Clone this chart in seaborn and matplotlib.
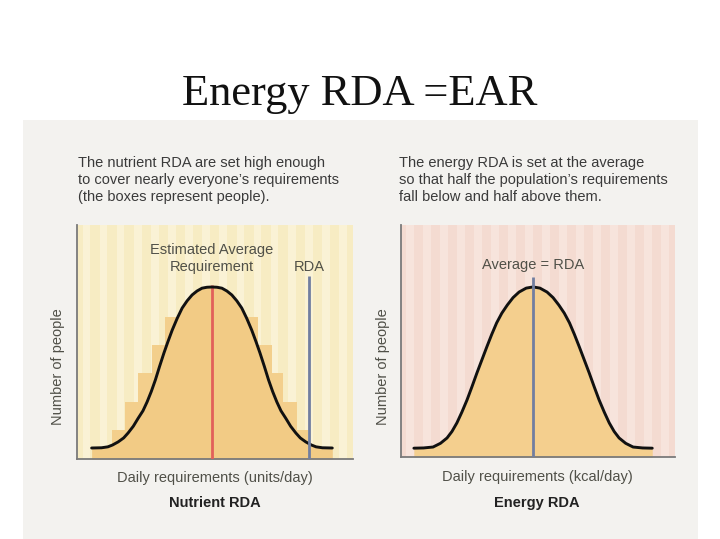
import numpy as np
import matplotlib
matplotlib.use("Agg")
import matplotlib.pyplot as plt
import seaborn as sns

# ---------------- data ----------------
title = "Energy RDA =EAR"

# Left panel: nutrient requirement curve, read as distance from the centre / height
nut_center = 48.9
nut_off = [0, 1.8, 3.6, 5.4, 7.2, 9.0, 10.8, 12.6, 14.4, 16.0, 17.4, 19.0, 20.5,
           22.0, 23.5, 25.0, 26.8, 28.5, 30.4, 32.0, 34.0, 36.0, 37.7, 40.0, 43.6]
nut_h = [73.5, 73.4, 73.0, 71.8, 70.1, 67.6, 64.5, 60.1, 55.1, 50.0, 45.3, 39.5, 33.8,
         28.8, 24.4, 20.6, 17.3, 14.0, 11.1, 9.0, 7.3, 6.0, 5.2, 4.8, 4.7]
# boxes (people) as a histogram
box_edges = [12.7, 17.4, 22.1, 27.2, 31.9, 65.6, 70.7, 74.6, 79.7, 83.7]
box_counts = [12.4, 24.4, 36.8, 48.7, 60.7, 48.7, 36.8, 24.4, 12.4]
ear_top = 74.4
rda_x, rda_top = 84.1, 78.2

# Right panel: energy requirement curve
en_center = 48.2
en_off = [0, 2.5, 5.1, 7.3, 9.4, 11.4, 13.3, 15.1, 16.9, 18.7, 20.5, 22.3, 24.1,
          26.0, 27.8, 29.6, 31.4, 33.8, 36.5, 40.0, 43.5]
en_h = [73.3, 72.8, 71.1, 68.7, 65.5, 62.0, 57.8, 52.8, 47.4, 41.8, 36.2, 30.3, 24.6,
        19.3, 14.7, 11.0, 8.2, 5.9, 4.3, 3.9, 3.8]
avg_top = 77.6

left_desc = ["The nutrient RDA are set high enough",
             "to cover nearly everyone\u2019s requirements",
             "(the boxes represent people)."]
right_desc = ["The energy RDA is set at the average",
              "so that half the population\u2019s requirements",
              "fall below and half above them."]

# symmetric curves from the read offsets
nut_x = [nut_center - d for d in nut_off[::-1]] + [nut_center + d for d in nut_off[1:]]
nut_y = nut_h[::-1] + nut_h[1:]
en_x = [en_center - d for d in en_off[::-1]] + [en_center + d for d in en_off[1:]]
en_y = en_h[::-1] + en_h[1:]

# ---------------- figure ----------------
sns.set_theme(style="white")
plt.rcParams['font.family'] = ['Liberation Sans', 'DejaVu Sans']

W, H = 720, 539
fig = plt.figure(figsize=(W / 100, H / 100), dpi=100)
fig.patch.set_facecolor("white")

def fx(px):
    return px / W

def fy(py):
    return 1 - py / H

# scanned page background
page = plt.Rectangle((fx(23), 0), fx(698) - fx(23), fy(120), transform=fig.transFigure,
                     facecolor="#f3f2ef", edgecolor="none", zorder=-10)
fig.patches.append(page)

fig.text(fx(360), fy(94), title, ha="center", va="center",
         family=["Liberation Serif", "DejaVu Serif"], fontsize=32, color="#111111")

txt_col = "#3a3a3a"

def setup_axes(rect, base, stripe):
    ax = fig.add_axes(rect)
    ax.set_facecolor(base)
    for s0 in np.arange(2, 100, 6.2):
        ax.axvspan(s0, s0 + 2.8, color=stripe, lw=0, zorder=0)
    for side in ("top", "right"):
        ax.spines[side].set_visible(False)
    for side in ("left", "bottom"):
        ax.spines[side].set_color("#7a7a7a")
        ax.spines[side].set_linewidth(1.3)
    return ax

def finish(ax):
    ax.set_xlim(0, 100)
    ax.set_ylim(0, 100)
    ax.set_xticks([])
    ax.set_yticks([])
    ax.set_xlabel("")
    ax.set_ylabel("")

# ---- left panel ----
axL = setup_axes([fx(77), fy(459), fx(353) - fx(77), (459 - 225) / H], "#f7ecc3", "#faf2d5")
centers = [(box_edges[i] + box_edges[i + 1]) / 2 for i in range(len(box_counts))]
sns.histplot(x=centers, weights=box_counts, bins=box_edges, ax=axL, stat="count",
             color="#f3cf8c", alpha=1, linewidth=0, zorder=1)
axL.fill_between(nut_x, 0, nut_y, color="#f2cb85", lw=0, zorder=2)
sns.lineplot(x=nut_x, y=nut_y, ax=axL, color="#111111", lw=2.1, sort=False, zorder=4,
             solid_joinstyle="round", solid_capstyle="round")
axL.vlines(nut_center, 0, ear_top, color="#e2605a", lw=2, zorder=3)
axL.vlines(rda_x, 0, rda_top, color="#717ea0", lw=2, zorder=5)
finish(axL)

# ---- right panel ----
axR = setup_axes([fx(401), fy(457), fx(675) - fx(401), (457 - 225) / H], "#f4dbd1", "#f7e4dc")
axR.fill_between(en_x, 0, en_y, color="#f4cf8e", lw=0, zorder=2)
sns.lineplot(x=en_x, y=en_y, ax=axR, color="#111111", lw=2.1, sort=False, zorder=4,
             solid_joinstyle="round", solid_capstyle="round")
axR.vlines(en_center, 0, avg_top, color="#717ea0", lw=2, zorder=5)
finish(axR)

fs = 10.5
for i, line in enumerate(left_desc):
    fig.text(fx(78), fy(163 + 17 * i), line, ha="left", va="center", fontsize=fs, color=txt_col)
for i, line in enumerate(right_desc):
    fig.text(fx(399), fy(163 + 17 * i), line, ha="left", va="center", fontsize=fs, color=txt_col)

lab_col = "#505048"
fig.text(fx(212), fy(250), "Estimated Average", ha="center", va="center", fontsize=fs, color=lab_col)
fig.text(fx(212), fy(267), "Requirement", ha="center", va="center", fontsize=fs, color=lab_col)
fig.text(fx(309), fy(267), "RDA", ha="center", va="center", fontsize=fs, color=lab_col)
fig.text(fx(533), fy(265), "Average = RDA", ha="center", va="center", fontsize=fs, color=lab_col)

fig.text(fx(58), fy(367), "Number of people", ha="center", va="center", rotation=90,
         fontsize=fs, color=lab_col)
fig.text(fx(383), fy(367), "Number of people", ha="center", va="center", rotation=90,
         fontsize=fs, color=lab_col)
fig.text(fx(215), fy(478), "Daily requirements (units/day)", ha="center", va="center",
         fontsize=fs, color=lab_col)
fig.text(fx(537), fy(477), "Daily requirements (kcal/day)", ha="center", va="center",
         fontsize=fs, color=lab_col)
fig.text(fx(215), fy(503), "Nutrient RDA", ha="center", va="center", fontsize=fs,
         fontweight="bold", color="#222222")
fig.text(fx(537), fy(503), "Energy RDA", ha="center", va="center", fontsize=fs,
         fontweight="bold", color="#222222")

fig.savefig("out.png", dpi=100)
